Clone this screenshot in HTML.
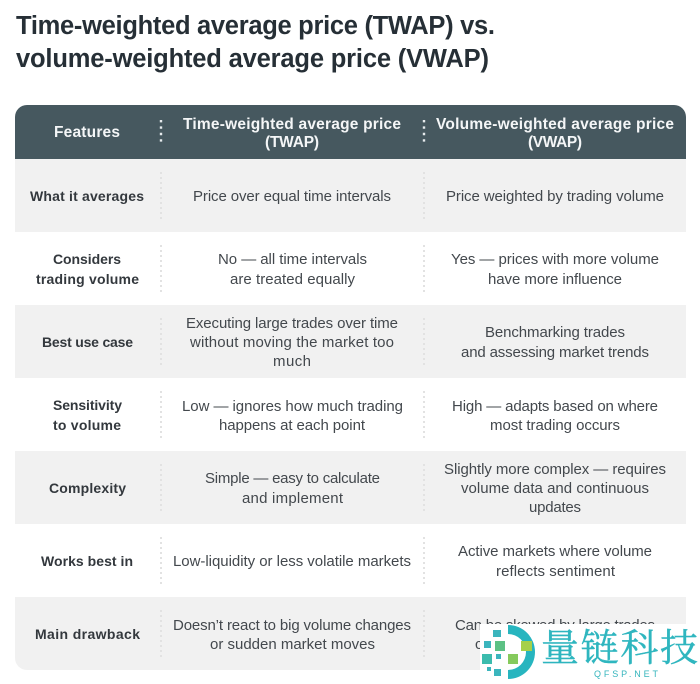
<!DOCTYPE html>
<html lang="en">
<head>
<meta charset="utf-8">
<title>TWAP vs VWAP</title>
<style>
html,body{margin:0;padding:0;background:#fff;width:700px;height:684px;overflow:hidden}
svg{display:block}
text{font-family:"Liberation Sans",sans-serif}
.t{font-size:25.5px;font-weight:700;fill:#262f36}
.h{font-size:15.5px;font-weight:700;fill:#f4f6f7}
.f{font-size:14px;font-weight:700;fill:#33383d}
.c{font-size:15px;fill:#43484d}
.d{stroke:#e2e2e2;stroke-width:2;stroke-dasharray:2 3;fill:none}
.dh{stroke:#e6ebed;stroke-width:2.4;stroke-dasharray:2.4 4;fill:none}
.g{fill:#f1f1f1}
.soft{filter:blur(0.3px)}
</style>
</head>
<body>
<svg class="soft" width="700" height="684" viewBox="0 0 700 684" xmlns="http://www.w3.org/2000/svg">
<g>
<text class="t" x="16" y="34" textLength="479">Time-weighted average price (TWAP) vs.</text>
<text class="t" x="16" y="67" textLength="473">volume-weighted average price (VWAP)</text>
</g>

<path d="M15 159V117a12 12 0 0 1 12-12H674a12 12 0 0 1 12 12V159Z" fill="#46585f"/>
<rect class="g" x="15" y="159" width="671" height="73"/>
<rect class="g" x="15" y="305" width="671" height="73"/>
<rect class="g" x="15" y="451" width="671" height="73"/>
<path d="M15 597H686V658a12 12 0 0 1-12 12H27a12 12 0 0 1-12-12Z" class="g"/>

<g>
<path class="dh" d="M161 120V145M424 120V145"/>
<path class="d" d="M161 172V220M424 172V220"/>
<path class="d" d="M161 245V293M424 245V293"/>
<path class="d" d="M161 318V366M424 318V366"/>
<path class="d" d="M161 391V439M424 391V439"/>
<path class="d" d="M161 464V512M424 464V512"/>
<path class="d" d="M161 537V585M424 537V585"/>
<path class="d" d="M161 610V658M424 610V658"/>
</g>

<g>
<text class="h" x="54" y="137" textLength="66">Features</text>
<text class="h" x="183" y="129" textLength="218">Time-weighted average price</text>
<text class="h" x="265" y="147" textLength="54">(TWAP)</text>
<text class="h" x="436" y="129" textLength="238">Volume-weighted average price</text>
<text class="h" x="528" y="147" textLength="54">(VWAP)</text>
</g>

<g>
<text class="f" x="30" y="201" textLength="114">What it averages</text>
<text class="c" x="193" y="201" textLength="198">Price over equal time intervals</text>
<text class="c" x="446" y="201" textLength="218">Price weighted by trading volume</text>
</g>

<g>
<text class="f" x="53" y="264" textLength="68">Considers</text>
<text class="f" x="36" y="284" textLength="103">trading volume</text>
<text class="c" x="218" y="264" textLength="149">No — all time intervals</text>
<text class="c" x="230" y="284" textLength="125">are treated equally</text>
<text class="c" x="451" y="264" textLength="208">Yes — prices with more volume</text>
<text class="c" x="488" y="284" textLength="134">have more influence</text>
</g>

<g>
<text class="f" x="42" y="347" textLength="91">Best use case</text>
<text class="c" x="186" y="328" textLength="212">Executing large trades over time</text>
<text class="c" x="190" y="347" textLength="204">without moving the market too</text>
<text class="c" x="273" y="366" textLength="38">much</text>
<text class="c" x="485" y="337" textLength="140">Benchmarking trades</text>
<text class="c" x="461" y="357" textLength="188">and assessing market trends</text>
</g>

<g>
<text class="f" x="53" y="410" textLength="69">Sensitivity</text>
<text class="f" x="53" y="430" textLength="68">to volume</text>
<text class="c" x="182" y="411" textLength="221">Low — ignores how much trading</text>
<text class="c" x="219" y="430" textLength="146">happens at each point</text>
<text class="c" x="452" y="411" textLength="206">High — adapts based on where</text>
<text class="c" x="490" y="430" textLength="130">most trading occurs</text>
</g>

<g>
<text class="f" x="49" y="493" textLength="77">Complexity</text>
<text class="c" x="205" y="483" textLength="175">Simple — easy to calculate</text>
<text class="c" x="242" y="503" textLength="101">and implement</text>
<text class="c" x="444" y="474" textLength="222">Slightly more complex — requires</text>
<text class="c" x="461" y="493" textLength="188">volume data and continuous</text>
<text class="c" x="529" y="512" textLength="52">updates</text>
</g>

<g>
<text class="f" x="41" y="566" textLength="92">Works best in</text>
<text class="c" x="173" y="566" textLength="238">Low-liquidity or less volatile markets</text>
<text class="c" x="458" y="556" textLength="194">Active markets where volume</text>
<text class="c" x="496" y="576" textLength="119">reflects sentiment</text>
</g>

<g>
<text class="f" x="35" y="639" textLength="105">Main drawback</text>
<text class="c" x="173" y="630" textLength="238">Doesn’t react to big volume changes</text>
<text class="c" x="210" y="649" textLength="165">or sudden market moves</text>
<text class="c" x="455" y="630" textLength="200">Can be skewed by large trades</text>
<text class="c" x="475" y="649">c</text>
</g>

<g>
<rect x="480" y="624" width="220" height="60" fill="#fff"/>
<path d="M508 625A27 27 0 0 1 508 679V670A18 18 0 0 0 508 634Z" fill="#27b5bf"/>
<g>
<rect x="493" y="630" width="8" height="7" fill="#3bb5bd"/>
<rect x="484" y="641" width="7" height="7" fill="#3bb5bd"/>
<rect x="495" y="641" width="10" height="10" fill="#5cc184"/>
<rect x="521" y="641" width="11" height="10" fill="#a6d04a"/>
<rect x="482" y="654" width="10" height="10" fill="#3cbcae"/>
<rect x="496" y="654" width="5" height="5" fill="#3bb5bd"/>
<rect x="508" y="654" width="10" height="10" fill="#85ca5c"/>
<rect x="487" y="667" width="4" height="4" fill="#3bb5bd"/>
<rect x="494" y="669" width="7" height="7" fill="#3bb5bd"/>
</g>
<text x="541" y="661" textLength="157" stroke="#2fb6bf" stroke-width="0.4" style="font-family:'Liberation Serif','Noto Serif CJK SC',serif;font-size:38px" fill="#2fb6bf">量链科技</text>
<text x="594" y="677" textLength="64" style="font-size:9px" fill="#36b5bd">QFSP.NET</text>
</g>
</svg>
</body>
</html>
